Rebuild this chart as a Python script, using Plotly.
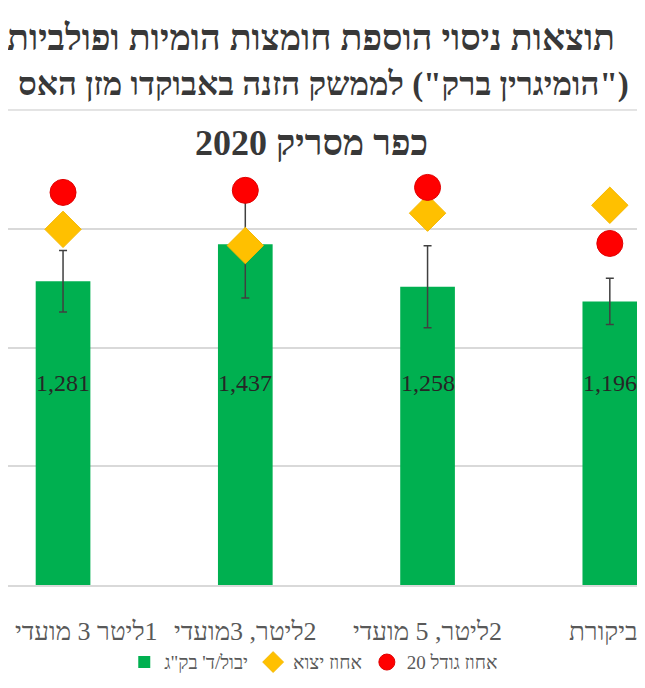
import plotly.graph_objects as go

# ---------------- data ----------------
RLM = "\u200f"
categories = [RLM + "1ליטר 3 מועדי", RLM + "2ליטר, 3מועדי", RLM + "2ליטר, 5 מועדי", "ביקורת"]
yield_kg = [1281, 1437, 1258, 1196]          # יבול לדונם בק"ג
yield_err = [130, 227, 173, 97]              # error bars
export_pct = [85.7, 81.8, 89.6, 91.5]        # אחוז יצוא
size20_pct = [94.6, 95.1, 95.8, 82.3]        # אחוז גודל 20 ומעלה

series_names = ["יבול/ד' בק\"ג", "אחוז יצוא", "אחוז גודל 20"]
title_lines = [
    "תוצאות ניסוי הוספת חומצות הומיות ופולביות",
    RLM + "(\"הומיגרין ברק\") לממשק הזנה באבוקדו מזן האס",
    "כפר מסריק 2020",
]

SERIF = "Liberation Serif, DejaVu Serif, serif"
GREEN = "#00B050"
YELLOW = "#FFC000"
RED = "#FF0000"

fig = go.Figure()

fig.add_trace(go.Bar(
    x=categories, y=yield_kg, name=series_names[0],
    marker=dict(color=GREEN, line=dict(width=0)),
    error_y=dict(type="data", array=yield_err, visible=True,
                 color="#404040", thickness=1.5, width=4),
))

fig.add_trace(go.Scatter(
    x=categories, y=export_pct, name=series_names[1], yaxis="y2",
    mode="markers",
    marker=dict(symbol="diamond", size=28, color=YELLOW,
                line=dict(color="#F5B800", width=1)),
))

fig.add_trace(go.Scatter(
    x=categories, y=size20_pct, name=series_names[2], yaxis="y2",
    mode="markers",
    marker=dict(symbol="circle", size=26, color=RED,
                line=dict(color="#E00000", width=1)),
))

# value labels inside the bars
for c, v in zip(categories, yield_kg):
    fig.add_annotation(x=c, y=850, xref="x", yref="y", text=f"{v:,}",
                       showarrow=False, yanchor="middle",
                       font=dict(family=SERIF, size=24, color="#262626"))

# category labels (nudged at the two edges so they stay inside the frame)
label_shift = [23, 0, 0, -6]
for c, sh in zip(categories, label_shift):
    fig.add_annotation(x=c, y=-0.113, xref="x", yref="paper", text=c,
                       showarrow=False, yanchor="middle", xshift=sh,
                       font=dict(family=SERIF, size=26, color="#595959"))

# title (three lines)
title_cfg = [(1.318, 36, 0.4757), (1.205, 33, 0.495), (1.065, 36, 0.4757)]
for t, (yy, s, xx) in zip(title_lines, title_cfg):
    fig.add_annotation(x=xx, y=yy, xref="paper", yref="paper", text=f"<b>{t}</b>",
                       showarrow=False, xanchor="center", yanchor="middle",
                       font=dict(family=SERIF, size=s, color="#383838"))

fig.add_shape(type="line", xref="paper", yref="paper", x0=0.0, x1=1.0,
              y0=1.1446, y1=1.1446, line=dict(color="#c8c8c8", width=1))

fig.update_layout(
    width=637, height=680,
    margin=dict(l=0, r=0, t=162, b=103),
    paper_bgcolor="white", plot_bgcolor="white",
    bargap=0.70,
    showlegend=True,
    legend=dict(orientation="h", x=0.48, xanchor="center", y=-0.186, yanchor="middle",
                font=dict(family=SERIF, size=19, color="#595959"),
                itemwidth=30, traceorder="normal", bgcolor="rgba(0,0,0,0)"),
    xaxis=dict(type="category", range=[-0.302, 3.193], automargin=False,
               showgrid=False, showline=True, linecolor="#d9d9d9", linewidth=2,
               ticks="", showticklabels=False),
    yaxis=dict(range=[0, 1750], dtick=500, showgrid=True, gridcolor="#d9d9d9",
               gridwidth=2, zeroline=False, showticklabels=False, automargin=False),
    yaxis2=dict(range=[0, 100], overlaying="y", side="right", showgrid=False,
                showticklabels=False, zeroline=False, automargin=False),
)

fig.write_html("out.html")
